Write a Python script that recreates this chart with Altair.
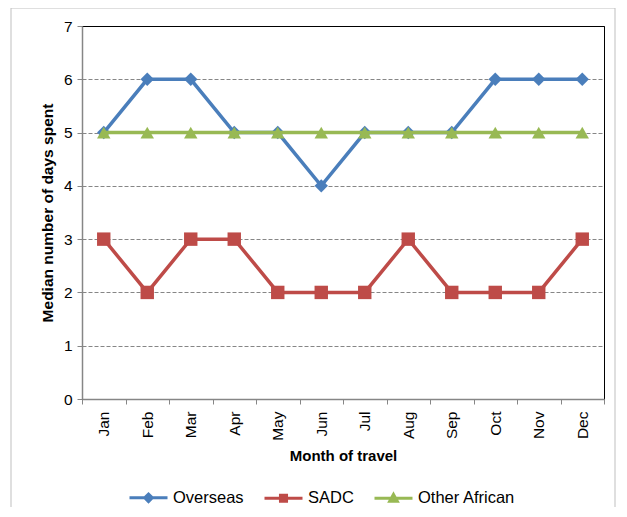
import altair as alt
import pandas as pd

months = ["Jan", "Feb", "Mar", "Apr", "May", "Jun", "Jul", "Aug", "Sep", "Oct", "Nov", "Dec"]
series = ["Overseas", "SADC", "Other African"]
overseas = [5, 6, 6, 5, 5, 4, 5, 5, 5, 6, 6, 6]
sadc = [3, 2, 3, 3, 2, 2, 2, 3, 2, 2, 2, 3]
other_african = [5, 5, 5, 5, 5, 5, 5, 5, 5, 5, 5, 5]
colors = ["#4A7EBB", "#BE4B48", "#98B954"]
shapes = ["diamond", "square", "triangle-up"]
legend_paths = [
    "M-1,0L1,0M0,-0.2L0.2,0L0,0.2L-0.2,0Z",
    "M-1,0L1,0M-0.16,-0.16L0.16,-0.16L0.16,0.16L-0.16,0.16Z",
    "M-1,0L1,0M0,-0.2L0.2,0.16L-0.2,0.16Z",
]

rows = []
for s, vals in zip(series, [overseas, sadc, other_african]):
    for m, v in zip(months, vals):
        rows.append({"month": m, "series": s, "value": v})
df = pd.DataFrame(rows)

FONT = "Liberation Sans"
GRAY = "#868686"

legend = alt.Legend(
    title=None, orient="none", legendX=46, legendY=451, direction="horizontal",
    symbolSize=1444, symbolStrokeWidth=3, symbolOpacity=1,
    labelFontSize=16.5, labelFont=FONT, labelColor="black", labelOffset=4,
    columnPadding=14, padding=0,
)

x_enc = alt.X(
    "month:N", sort=months,
    scale=alt.Scale(type="band", paddingInner=0, paddingOuter=0),
    axis=alt.Axis(
        title="Month of travel", titleFont=FONT, titleFontSize=15, titleFontWeight="bold",
        titleColor="black", titlePadding=8,
        labelAngle=270, labelAlign="right", labelBaseline="middle", labelFont=FONT,
        labelFontSize=15.5, labelColor="black", labelPadding=7,
        tickBand="extent", tickSize=5, tickColor=GRAY, domainColor=GRAY, domainWidth=1.5,
        grid=False,
    ),
)
y_enc = alt.Y(
    "value:Q",
    scale=alt.Scale(domain=[0, 7], nice=False),
    axis=alt.Axis(
        title="Median number of days spent", titleFont=FONT, titleFontSize=15.5,
        titleFontWeight="bold", titleColor="black", titlePadding=8,
        values=[0, 1, 2, 3, 4, 5, 6, 7], labelFont=FONT, labelFontSize=15.5,
        labelColor="black", labelPadding=5, tickSize=5, tickColor=GRAY,
        domainColor=GRAY, domainWidth=1.5,
        grid=True,
        gridColor={"condition": {"test": "datum.value === 7", "value": "black"}, "value": GRAY},
        gridDash={"condition": {"test": "datum.value === 7", "value": []}, "value": [4, 2]},
        gridOpacity={"condition": {"test": "datum.value === 0", "value": 0}, "value": 1},
    ),
)

layers = []
for s, c, sh in zip(series, colors, shapes):
    base = alt.Chart(df).transform_filter(alt.datum.series == s)
    layers.append(base.mark_line(strokeWidth=3.5, color=c).encode(x=x_enc, y=y_enc))
    layers.append(base.mark_point(filled=True, size=180, opacity=1, shape=sh, color=c).encode(
        x=x_enc, y=y_enc))

# legend-only layer (draws no marks; its scales carry the legend)
legend_layer = alt.Chart(df).transform_filter("false").mark_point(filled=True, opacity=1).encode(
    x=x_enc, y=y_enc,
    color=alt.Color("series:N", scale=alt.Scale(domain=series, range=colors), legend=legend, sort=series),
    stroke=alt.Stroke("series:N", scale=alt.Scale(domain=series, range=colors), legend=legend, sort=series),
    shape=alt.Shape("series:N", scale=alt.Scale(domain=series, range=legend_paths), legend=legend, sort=series),
)

border = alt.Chart(alt.Data(values=[{}])).mark_rect(
    fill=None, stroke="#BFBFBF", strokeWidth=1
).encode(x=alt.value(-71), x2=alt.value(533), y=alt.value(-18), y2=alt.value(530))

chart = alt.layer(border, *layers, legend_layer).properties(
    width=522, height=373,
    autosize=alt.AutoSizeParams(type="none"),
    padding={"left": 74, "top": 18, "right": 15, "bottom": 108},
).configure_view(stroke="black", strokeWidth=1)

chart.save("out.html", embed_options={"renderer": "svg", "actions": False})
